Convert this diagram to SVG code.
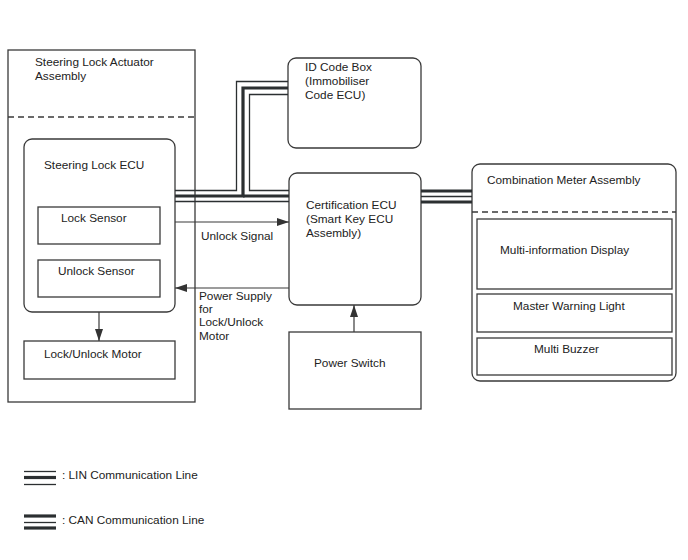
<svg xmlns="http://www.w3.org/2000/svg" width="688" height="560" viewBox="0 0 688 560">
<defs>
<style>
.b{fill:none;stroke:#3a3a3a;stroke-width:1.3}
.d{fill:none;stroke:#3a3a3a;stroke-width:1.3;stroke-dasharray:6,4}
.t{font-family:"Liberation Sans",Arial,sans-serif;font-size:11.8px;fill:#222}
.thin{fill:none;stroke:#2b2f31;stroke-width:1.3}
.thick{fill:none;stroke:#2b2f31;stroke-width:3.2}
.a{fill:none;stroke:#3a3a3a;stroke-width:1.2}
</style>
<marker id="ah" markerWidth="12" markerHeight="8" refX="12" refY="4" orient="auto" markerUnits="userSpaceOnUse">
<path d="M0,0 L12,4 L0,8 Z" fill="#333"/>
</marker>
</defs>
<rect width="688" height="560" fill="#fff"/>

<g id="steering-lock-actuator-assembly">
<rect class="b" x="8" y="50" width="187" height="352"/>
<line class="d" x1="8" y1="117" x2="195" y2="117"/>
<text class="t" x="35" y="66">Steering Lock Actuator</text>
<text class="t" x="35" y="80">Assembly</text>
</g>
<g id="steering-lock-ecu">
<rect class="b" x="24" y="139" width="151" height="173" rx="8"/>
<text class="t" x="44" y="169">Steering Lock ECU</text>
</g>
<g id="lock-sensor">
<rect class="b" x="38" y="207" width="122" height="37"/>
<text class="t" x="61" y="222">Lock Sensor</text>
</g>
<g id="unlock-sensor">
<rect class="b" x="38" y="260" width="122" height="37"/>
<text class="t" x="58" y="275">Unlock Sensor</text>
</g>
<g id="lock-unlock-motor">
<rect class="b" x="24" y="341" width="151" height="38"/>
<text class="t" x="44" y="358">Lock/Unlock Motor</text>
</g>
<g id="id-code-box">
<rect class="b" x="288" y="58" width="133" height="90" rx="8"/>
<text class="t" x="305" y="71">ID Code Box</text>
<text class="t" x="305" y="85">(Immobiliser</text>
<text class="t" x="305" y="99">Code ECU)</text>
</g>
<g id="certification-ecu">
<rect class="b" x="289" y="173" width="132" height="132" rx="8"/>
<text class="t" x="306" y="209">Certification ECU</text>
<text class="t" x="306" y="223">(Smart Key ECU</text>
<text class="t" x="306" y="237">Assembly)</text>
</g>
<g id="power-switch">
<rect class="b" x="289" y="332" width="132" height="77"/>
<text class="t" x="314" y="367">Power Switch</text>
</g>
<g id="combination-meter-assembly">
<rect class="b" x="472" y="164" width="204" height="217" rx="8"/>
<line class="d" x1="472" y1="212" x2="676" y2="212"/>
<text class="t" x="487" y="184">Combination Meter Assembly</text>
</g>
<g id="multi-information-display">
<rect class="b" x="477" y="219" width="195" height="70"/>
<text class="t" x="500" y="254">Multi-information Display</text>
</g>
<g id="master-warning-light">
<rect class="b" x="477" y="294" width="195" height="38"/>
<text class="t" x="513" y="310">Master Warning Light</text>
</g>
<g id="multi-buzzer">
<rect class="b" x="477" y="338" width="195" height="37"/>
<text class="t" x="534" y="353">Multi Buzzer</text>
</g>

<g id="connectors">
<!-- LIN lines -->
<path class="thin" d="M175,190.5 H236.5 V81.5 H288"/>
<path class="thick" d="M175,196 H243 V88 H288"/>
<path class="thick" d="M243,196 H289"/>
<path class="thin" d="M289,190.5 H249.5 V94.5 H288"/>
<path class="thin" d="M175,201.5 H289"/>
<!-- CAN line -->
<path class="thick" d="M421,191 H472"/>
<path class="thin" d="M421,196.5 H472"/>
<path class="thick" d="M421,202 H472"/>
<!-- arrows -->
<line class="a" x1="175" y1="222" x2="289" y2="222" marker-end="url(#ah)"/>
<text class="t" x="201" y="240">Unlock Signal</text>
<line class="a" x1="289" y1="288" x2="175" y2="288" marker-end="url(#ah)"/>
<text class="t" x="199" y="300">Power Supply</text>
<text class="t" x="199" y="313">for</text>
<text class="t" x="199" y="326">Lock/Unlock</text>
<text class="t" x="199" y="340">Motor</text>
<line class="a" x1="99" y1="312" x2="99" y2="341" marker-end="url(#ah)"/>
<line class="a" x1="354" y1="332" x2="354" y2="305" marker-end="url(#ah)"/>
</g>

<g id="legend">
<path class="thin" d="M24,471.5 H56"/>
<path class="thick" d="M24,477.5 H56"/>
<path class="thin" d="M24,484.5 H56"/>
<text class="t" x="62" y="479">: LIN Communication Line</text>
<path class="thick" d="M24,516 H56"/>
<path class="thin" d="M24,522.5 H56"/>
<path class="thick" d="M24,528 H56"/>
<text class="t" x="62" y="524">: CAN Communication Line</text>
</g>
</svg>
